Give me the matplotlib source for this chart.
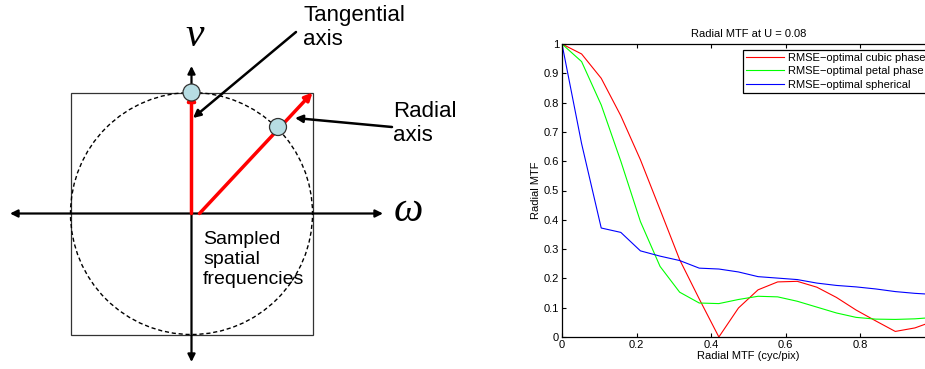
import numpy as np
import matplotlib
matplotlib.use('Agg')
import matplotlib.pyplot as plt
from matplotlib.patches import Rectangle, Circle, FancyArrowPatch

plt.rcParams['font.family'] = ['Liberation Sans', 'DejaVu Sans']

# datos de la curva MTF radial
frecuencias = [0.0, 0.0526, 0.1053, 0.1579, 0.2105, 0.2632, 0.3158, 0.3684, 0.4211, 0.4737,
               0.5263, 0.5789, 0.6316, 0.6842, 0.7368, 0.7895, 0.8421, 0.8947, 0.9474, 1.0]
mtf_cubica = [1.0, 0.966, 0.883, 0.755, 0.605, 0.435, 0.264, 0.13, 0.0, 0.099,
              0.161, 0.188, 0.19, 0.17, 0.135, 0.092, 0.055, 0.019, 0.031, 0.055]
mtf_petalo = [1.0, 0.94, 0.792, 0.60, 0.394, 0.241, 0.153, 0.116, 0.114, 0.128,
              0.139, 0.137, 0.122, 0.102, 0.082, 0.067, 0.061, 0.06, 0.062, 0.067]
mtf_esferica = [1.0, 0.66, 0.372, 0.357, 0.294, 0.276, 0.261, 0.235, 0.232, 0.222,
                0.206, 0.201, 0.196, 0.184, 0.176, 0.171, 0.164, 0.155, 0.149, 0.145]
etiquetas = ['RMSE\u2212optimal cubic phase', 'RMSE\u2212optimal petal phase',
             'RMSE\u2212optimal spherical']
colores = ['#ff0000', '#00ff00', '#0000ff']

fig = plt.figure(figsize=(9.25, 3.69), dpi=100)

# ---- diagrama (coordenadas en pixeles) ----
ax = fig.add_axes([0, 0, 470 / 925, 1])
ax.set_xlim(0, 470)
ax.set_ylim(369, 0)
ax.axis('off')

cx, cy, r = 191.5, 213.5, 121

ax.add_patch(Rectangle((cx - r, cy - r), 2 * r, 2 * r, fill=False, ec='#333333', lw=0.9))
ax.add_patch(Circle((cx, cy), r, fill=False, ec='black', lw=1.0, ls=(0, (3, 2))))

def flecha(p0, p1, color='black', lw=1.6, estilo='-|>', ms=10):
    ax.add_patch(FancyArrowPatch(p0, p1, arrowstyle=estilo, mutation_scale=ms,
                                 color=color, lw=lw, shrinkA=0, shrinkB=0))

flecha((cx, cy), (10, cy), ms=11)
flecha((cx, cy), (383, cy), ms=11)
flecha((cx, cy), (cx, 66), ms=11)
flecha((cx, cy), (cx, 362), ms=11)

ax.add_patch(Circle((cx, cy - r), 8.5, fc='#b7dde3', ec='#333333', lw=0.9, zorder=3))
ax.add_patch(Circle((278, 127), 8.5, fc='#b7dde3', ec='#333333', lw=0.9, zorder=3))

flecha((cx, cy), (cx, cy - r), color='red', lw=2.5, ms=11)
flecha((cx + 8, cy), (cx + r, cy - r), color='red', lw=2.5, ms=11)

flecha((296, 32), (193, 118), lw=1.8, ms=11)
flecha((392, 127), (295, 118), lw=1.8, ms=11)

ax.text(303, 5, 'Tangential\naxis', fontsize=16, va='top', ha='left', linespacing=1.2)
ax.text(393, 101, 'Radial\naxis', fontsize=16, va='top', ha='left', linespacing=1.2)
ax.text(203, 231, 'Sampled\nspatial\nfrequencies', fontsize=14, va='top', ha='left',
        linespacing=1.22)
ax.text(195, 36, '\u03bd', fontsize=30, ha='center', va='center',
        family='Liberation Serif', style='italic')
ax.text(408, 211, '\u03c9', fontsize=30, ha='center', va='center',
        family='Liberation Serif', style='italic')

# ---- grafica MTF ----
ax2 = fig.add_axes([562 / 925, 32 / 369, 372.5 / 925, 293 / 369])
for y, c, lab in zip([mtf_cubica, mtf_petalo, mtf_esferica], colores, etiquetas):
    ax2.plot(frecuencias, y, color=c, lw=0.8, label=lab)
ax2.set_xlim(0, 1)
ax2.set_ylim(0, 1)
ax2.set_xticks([0, 0.2, 0.4, 0.6, 0.8, 1.0])
ax2.set_xticklabels(['0', '0.2', '0.4', '0.6', '0.8', ''])
ax2.set_yticks(np.arange(0, 11) / 10)
ax2.set_yticklabels(['0'] + ['0.%d' % i for i in range(1, 10)] + ['1'])
ax2.tick_params(direction='in', top=True, right=True, length=3, width=0.8,
                labelsize=8, pad=2)
for s in ax2.spines.values():
    s.set_linewidth(0.9)
ax2.set_title('Radial MTF at U = 0.08', fontsize=8, pad=5)
ax2.set_xlabel('Radial MTF (cyc/pix)', fontsize=8, labelpad=1)
ax2.set_ylabel('Radial MTF', fontsize=8, labelpad=2)
leg = ax2.legend(loc='upper right', fontsize=8, handlelength=3.4, handletextpad=0.4,
                 labelspacing=0.3, borderpad=0.3, fancybox=False, framealpha=1,
                 borderaxespad=0.5)
leg.get_frame().set_edgecolor('black')
leg.get_frame().set_linewidth(0.9)

fig.savefig('out.png', dpi=100)
